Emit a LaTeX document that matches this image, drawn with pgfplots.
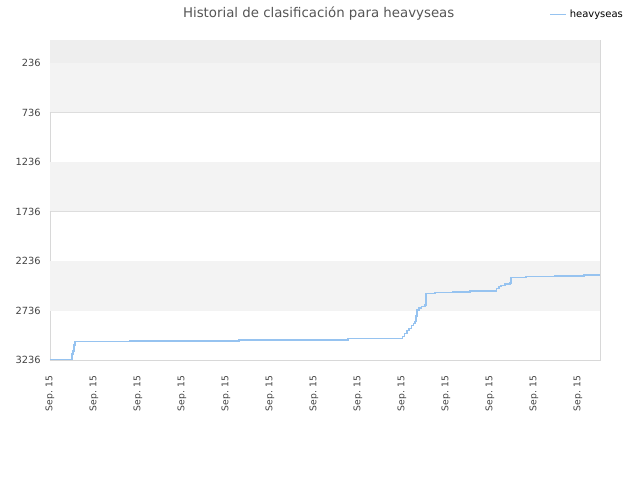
\documentclass[border=0pt]{standalone}
\usepackage{pgfplots}
\pgfplotsset{compat=1.18}
\usepackage{fontspec}
\setmainfont{DejaVu Sans}
\definecolor{bandg}{HTML}{F3F3F3}
\definecolor{topg}{HTML}{EEEEEE}
\definecolor{gridc}{HTML}{DDDDDD}
\definecolor{framec}{HTML}{D8D8D8}
\definecolor{linec}{RGB}{150,195,240}
\definecolor{txt}{HTML}{444444}
\definecolor{ttl}{HTML}{555555}
\begin{document}
\begin{tikzpicture}
\useasboundingbox (0,0) rectangle (480pt,360pt);
\node[text=ttl,font=\fontsize{10}{12}\selectfont] at (239pt,350pt) {Historial de clasificación para heavyseas};
\begin{axis}[
  at={(37.5pt,90pt)}, anchor=south west,
  scale only axis, width=412.5pt, height=240pt,
  xmin=0, xmax=12.5, ymin=4, ymax=3236, y dir=reverse,
  axis line style={framec},
  xtick={0,1,...,12}, xticklabels={Sep. 15,Sep. 15,Sep. 15,Sep. 15,Sep. 15,Sep. 15,Sep. 15,Sep. 15,Sep. 15,Sep. 15,Sep. 15,Sep. 15,Sep. 15},
  xticklabel style={rotate=90, anchor=east, font=\fontsize{6.9}{8}\selectfont, text=txt},
  xticklabel shift=8pt,
  ytick={236,736,1236,1736,2236,2736,3236},
  yticklabel style={font=\fontsize{7.4}{8}\selectfont, text=txt},
  yticklabel shift=3.5pt,
  /pgf/number format/assume math mode=true,
  /pgf/number format/1000 sep={},
  major tick length=0pt,
  ymajorgrids, grid style={gridc, line width=0.6pt},
  legend style={at={(1.047,1.08)}, anchor=east, draw=none, fill=none, font=\fontsize{7.5}{8}\selectfont, legend cell align=left, inner sep=0pt},
  legend image code/.code={\draw[linec, line width=1pt] (0pt,0pt) -- (7.5pt,0pt); \path (0pt,0pt) -- (12pt,0pt);},
]
\fill[topg] (axis cs:0,4) rectangle (axis cs:12.5,236);
\fill[bandg] (axis cs:0,236) rectangle (axis cs:12.5,736);
\fill[bandg] (axis cs:0,1236) rectangle (axis cs:12.5,1736);
\fill[bandg] (axis cs:0,2236) rectangle (axis cs:12.5,2736);
\addplot[const plot, linec, line width=1pt] coordinates {
(0,3232) (0.5,3175) (0.523,3145) (0.545,3085) (0.568,3051) (1.818,3044) (4.295,3034) (6.773,3021)
(8.007,3000) (8.06,2970) (8.11,2940) (8.16,2915) (8.21,2890) (8.26,2865) (8.295,2849)
(8.32,2790) (8.341,2731) (8.39,2710) (8.45,2698) (8.523,2680) (8.545,2566) (8.75,2556)
(9.159,2549) (9.545,2539) (10.152,2515) (10.205,2496) (10.25,2485) (10.341,2468) (10.455,2458)
(10.477,2405) (10.818,2395) (11.477,2388) (12.136,2378) (12.5,2378)
};
\addlegendentry{heavyseas}
\end{axis}
\end{tikzpicture}
\end{document}
